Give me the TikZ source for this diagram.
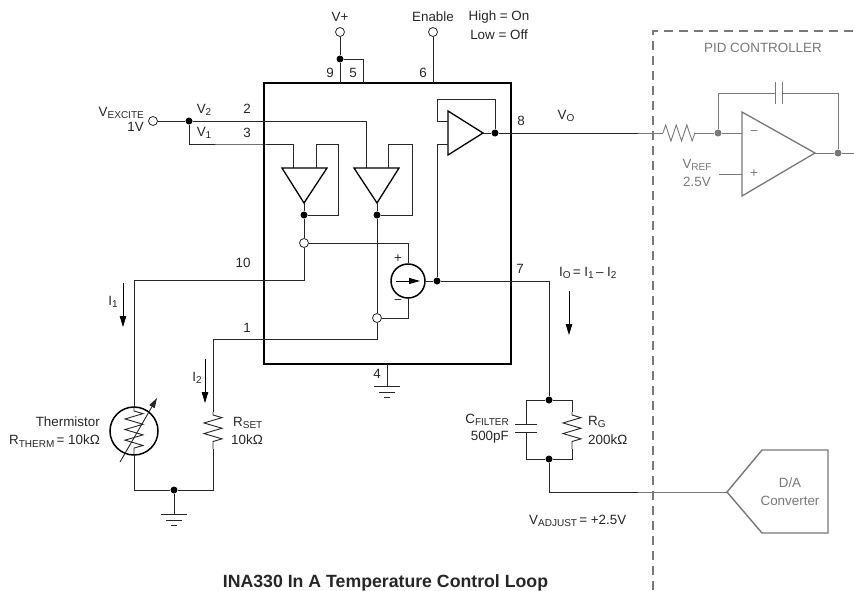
\documentclass[tikz,border=0pt]{standalone}
\usepackage{fontspec}
\setmainfont{Liberation Sans}
\usepackage{xcolor}
\usetikzlibrary{arrows.meta,decorations.pathmorphing}

\definecolor{pidgray}{gray}{0.47}
\newcommand{\subs}[1]{\raisebox{-2.6pt}{\fontsize{10}{10}\selectfont #1}}

\tikzset{
    wire/.style={line width=0.9pt, black!85},
    graywire/.style={line width=0.9pt, pidgray},
    amp/.style={line width=1.3pt, black},
    dot/.style={circle, fill=black, inner sep=0pt, minimum size=7pt},
    graydot/.style={circle, fill=pidgray, inner sep=0pt, minimum size=7pt},
    term/.style={circle, draw=black!85, fill=white, line width=0.8pt, inner sep=0pt, minimum size=9pt},
    lbl/.style={font=\fontsize{13.4}{15}\selectfont, inner sep=0pt, text=black!85},
    graylbl/.style={lbl, text=pidgray},
    zig/.style={decorate, decoration={zigzag, segment length=10.6pt, amplitude=9pt, pre length=3pt, post length=3pt}},
    current/.style={line width=0.9pt, black, -{Stealth[length=11pt, width=6.5pt, inset=0pt]}}
}

\begin{document}
\begin{tikzpicture}[x=1pt, y=-1pt]
    \useasboundingbox (0,0) rectangle (854,590);

    % Chip outline
    \node[draw=black, line width=1.9pt, minimum width=247pt, minimum height=281pt, inner sep=0pt] (chip) at (387.5,223.5) {};

    % Supply pins
    \node[term] (vplus) at (340,32) {};
    \node[term] (enable) at (433,32) {};
    \node[dot] (vdot) at (340,59) {};
    \coordinate (pinnine) at (340,83);
    \coordinate (pinfive) at (363,83);
    \coordinate (pinsix) at (433,83);
    \draw[wire] (vplus) -- (vdot) -- (pinnine);
    \draw[wire] (vdot) -| (pinfive);
    \draw[wire] (enable) -- (pinsix);
    \node[lbl] at (340,17) {V+};
    \node[lbl] at (433,17) {Enable};
    \node[lbl] at (499,17) {High = On};
    \node[lbl] at (499,35) {Low = Off};
    \node[lbl] at (330,73) {9};
    \node[lbl] at (353,73) {5};
    \node[lbl] at (423,73) {6};

    % Excitation input
    \node[term] (vexcite) at (153,121) {};
    \node[dot] (vsplit) at (189,121) {};
    \coordinate (amponein) at (293,168);
    \coordinate (amptwoin) at (366,168);
    \draw[wire] (vexcite) -- (vsplit) -| (amptwoin);
    \draw[wire] (vsplit) |- (240,144) -| (amponein);
    \node[lbl, anchor=east] at (144,113) {V\subs{EXCITE}};
    \node[lbl, anchor=east] at (144,127) {1V};
    \node[lbl] at (204,110) {V\subs{2}};
    \node[lbl] at (204,133) {V\subs{1}};
    \node[lbl] at (247,109) {2};
    \node[lbl] at (247,133) {3};

    % Input buffers
    \draw[amp] (282,168) -- (327,168) -- (304,203) -- cycle;
    \draw[amp] (354,168) -- (399,168) -- (377,203) -- cycle;
    \coordinate (amponeout) at (304,203);
    \coordinate (amptwoout) at (377,203);
    \node[dot] (onedot) at (304,215) {};
    \node[dot] (twodot) at (377,215) {};
    \node[term] (onetap) at (304,243) {};
    \node[term] (twotap) at (377,318) {};
    \draw[wire] (amponeout) -- (onedot) -- (onetap);
    \draw[wire] (amptwoout) -- (twodot) -- (twotap);
    \draw[wire] (316,168) |- (338,144) |- (onedot);
    \draw[wire] (388,168) |- (412,144) |- (twodot);

    % Current source
    \node[circle, draw=black, line width=1.5pt, minimum size=34pt, inner sep=0pt] (source) at (408,281) {};
    \draw[wire] (onetap) -| (source);
    \draw[wire] (twotap) -| (source);
    \draw[current, -{Stealth[length=11pt, width=6pt, inset=0pt]}] (396,281) -- (420,281);
    \node[lbl] at (398,259) {+};
    \node[lbl] at (398,302) {−};

    % Output buffer
    \draw[amp] (448,111) -- (448,155) -- (483,133) -- cycle;
    \node[dot] (iodot) at (437,281) {};
    \node[dot] (voutdot) at (495,133) {};
    \draw[wire] (source) -- (iodot);
    \draw[wire] (iodot) |- (448,144);
    \draw[wire] (448,121) -| (437,99) -| (voutdot);
    \draw[wire] (483,133) -- (voutdot);
    \node[lbl] at (521,121) {8};
    \node[lbl] at (566,116) {V\subs{O}};

    % Thermistor branch
    \coordinate (pinten) at (134,280);
    \node[circle, draw=black, line width=1.5pt, minimum size=48pt, inner sep=0pt] (therm) at (134,431) {};
    \node[dot] (retdot) at (174,490) {};
    \draw[wire] (onetap) |- (pinten) -- (134,408);
    \draw[wire, zig] (134,408) -- (134,454);
    \draw[wire] (134,454) |- (retdot);
    \draw[wire, -{Stealth[length=10pt, width=6pt, inset=0pt]}] (120,462) -- (157,398);
    \draw[current] (123,283) -- (123,327);
    \node[lbl] at (113,302) {I\subs{1}};
    \node[lbl] at (243,263) {10};
    \node[lbl, anchor=east] at (100,422) {Thermistor};
    \node[lbl, anchor=east] at (100,441) {R\subs{THERM}\,= 10kΩ};

    % Set resistor branch
    \coordinate (pinone) at (213,339);
    \draw[wire] (twotap) |- (pinone) -- (213,412);
    \draw[wire, zig] (213,412) -- (213,449);
    \draw[wire] (213,449) |- (retdot);
    \draw[current] (205,359) -- (205,403);
    \node[lbl] at (197,378) {I\subs{2}};
    \node[lbl] at (247,328) {1};
    \node[lbl, anchor=west] at (233,423) {R\subs{SET}};
    \node[lbl, anchor=west] at (231,440) {10kΩ};

    % Grounds
    \foreach \gx/\gy in {174/514, 387/386} {
        \draw[wire] (\gx-13,\gy) -- (\gx+13,\gy);
        \draw[wire] (\gx-8,\gy+6) -- (\gx+8,\gy+6);
        \draw[wire] (\gx-3,\gy+11) -- (\gx+3,\gy+11);
    }
    \draw[wire] (retdot) -- (174,514);
    \draw[wire] (387,364) -- (387,386);
    \node[lbl] at (377,374) {4};

    % Filter network
    \node[dot] (filttop) at (549,400) {};
    \node[dot] (filtbot) at (549,459) {};
    \draw[wire] (iodot) -| (filttop);
    \draw[wire] (filttop) -| (526,424);
    \draw[wire] (filtbot) -| (526,432);
    \draw[wire] (515,424) -- (537,424);
    \draw[wire] (515,432) -- (537,432);
    \draw[wire] (filttop) -| (572,412);
    \draw[wire, zig] (572,412) -- (572,449);
    \draw[wire] (filtbot) -| (572,449);
    \node[lbl] at (520,269) {7};
    \node[lbl, anchor=west] at (559,273) {I\subs{O}\,= I\subs{1}\,– I\subs{2}};
    \draw[current] (569,291) -- (569,335);
    \node[lbl, anchor=east] at (509,420) {C\subs{FILTER}};
    \node[lbl, anchor=east] at (509,437) {500pF};
    \node[lbl, anchor=west] at (588,422) {R\subs{G}};
    \node[lbl, anchor=west] at (588,440) {200kΩ};
    \node[lbl, anchor=west] at (529,521) {V\subs{ADJUST}\,= +2.5V};

    % PID controller
    \draw[line width=1.5pt, pidgray, dash pattern=on 9pt off 6pt] (653,590) -- (653,31) -- (854,31);
    \node[graylbl] at (763,48) {PID CONTROLLER};
    \draw[amp, pidgray] (742,112) -- (742,196) -- (815,153) -- cycle;
    \node[graydot] (sumdot) at (718,133) {};
    \node[graydot] (pidout) at (838,153) {};
    \coordinate (voend) at (638,133);
    \draw[wire] (voutdot) -- (voend);
    \draw[graywire] (voend) -- (663,133);
    \draw[graywire, decorate, decoration={zigzag, segment length=10.6pt, amplitude=8pt}] (663,133) -- (695,133);
    \draw[graywire] (695,133) -- (sumdot) -- (742,133);
    \draw[graywire] (sumdot) |- (775,93);
    \draw[graywire] (782,93) -| (pidout);
    \draw[graywire] (775,82) -- (775,104);
    \draw[graywire] (782,82) -- (782,104);
    \draw[graywire] (815,153) -- (pidout) -- (854,153);
    \draw[graywire] (719,174) -- (742,174);
    \node[graylbl] at (754,133) {−};
    \node[graylbl] at (754,174) {+};
    \node[graylbl] at (697,165) {V\subs{REF}};
    \node[graylbl] at (697,182) {2.5V};

    % D/A converter
    \node[graylbl, align=center] (dac) at (790,492) {D/A\\[3pt]Converter};
    \draw[line width=1.4pt, pidgray] (727,492) -- (762,450) -- (828,450) -- (828,533) -- (762,533) -- cycle;
    \coordinate (adjend) at (638,492);
    \draw[wire] (filtbot) |- (adjend);
    \draw[graywire] (adjend) -- (727,492);

    % Caption
    \node[lbl, font=\fontsize{17.7}{20}\selectfont\bfseries] at (385.5,583) {INA330 In A Temperature Control Loop};
\end{tikzpicture}
\end{document}
